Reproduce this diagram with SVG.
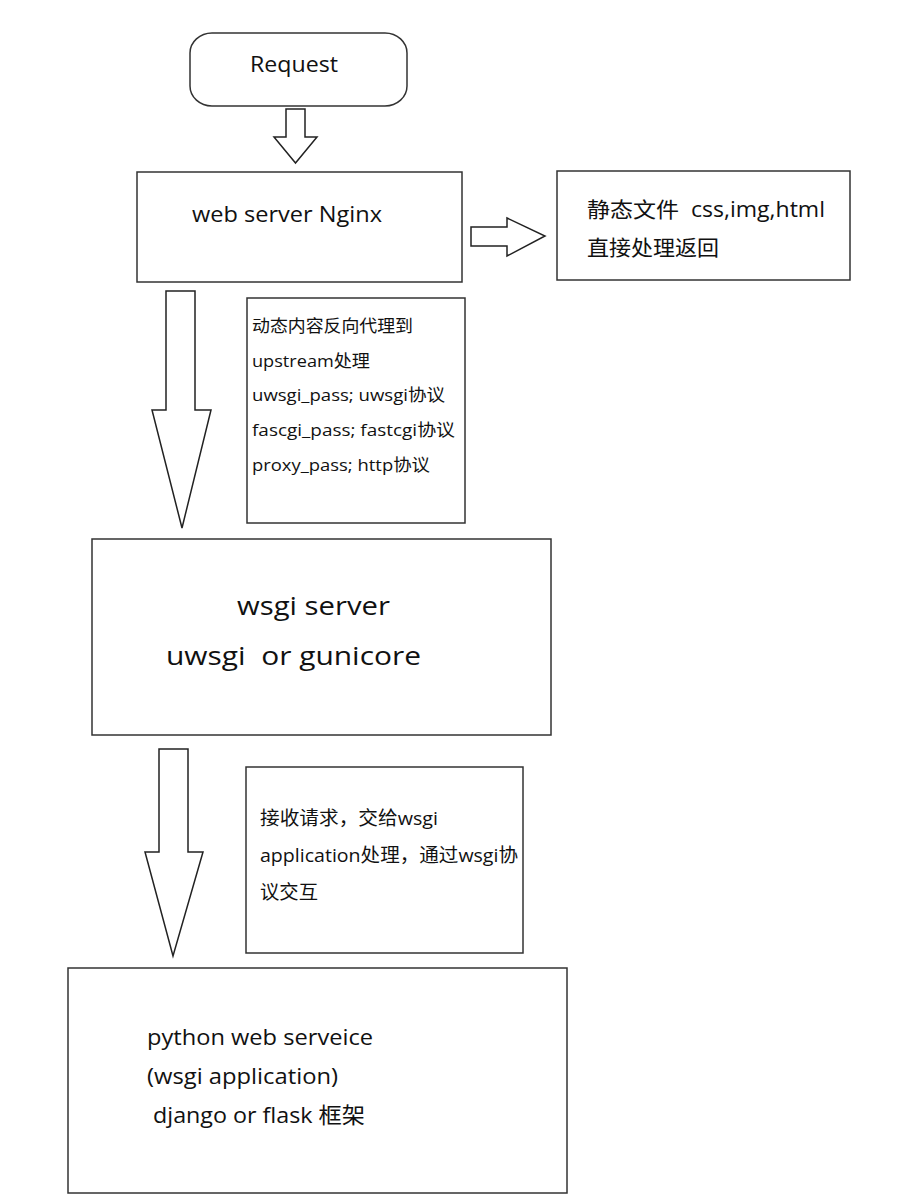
<svg xmlns="http://www.w3.org/2000/svg" width="908" height="1199" viewBox="0 0 908 1199" xml:space="preserve">
<style>
.box{fill:#fff;stroke:#333;stroke-width:1.5}
.arr{fill:#fff;stroke:#222;stroke-width:1.5;stroke-linejoin:miter}
text{font-family:"Open Sans","Noto Sans CJK SC",sans-serif;fill:#111;white-space:pre}
.t20{font-size:21px}
.t16{font-size:17px}
.t17{font-size:19px}
.t24{font-size:26px}
.t22{font-size:22px}
</style>
<rect width="908" height="1199" fill="#fff"/>
<g id="request">
<rect class="box" x="190" y="33" width="217" height="73" rx="22" ry="20"/>
<text class="t20" x="250" y="72" textLength="88" lengthAdjust="spacingAndGlyphs">Request</text>
</g>
<g id="nginx">
<rect class="box" x="137" y="172" width="325" height="110"/>
<text class="t20" x="192" y="222" textLength="190" lengthAdjust="spacingAndGlyphs">web server Nginx</text>
</g>
<g id="static">
<rect class="box" x="557" y="171" width="293" height="109"/>
<text class="t20" x="587" y="217" textLength="238" lengthAdjust="spacingAndGlyphs">静态文件  css,img,html</text>
<text class="t20" x="587" y="255" textLength="132" lengthAdjust="spacingAndGlyphs">直接处理返回</text>
</g>
<g id="note1">
<rect class="box" x="247" y="298" width="218" height="225"/>
<text class="t16" x="252" y="332" textLength="161" lengthAdjust="spacingAndGlyphs">动态内容反向代理到</text>
<text class="t16" x="252" y="367" textLength="118" lengthAdjust="spacingAndGlyphs">upstream处理</text>
<text class="t16" x="252" y="401" textLength="193" lengthAdjust="spacingAndGlyphs">uwsgi_pass; uwsgi协议</text>
<text class="t16" x="252" y="436" textLength="203" lengthAdjust="spacingAndGlyphs">fascgi_pass; fastcgi协议</text>
<text class="t16" x="252" y="471" textLength="178" lengthAdjust="spacingAndGlyphs">proxy_pass; http协议</text>
</g>
<g id="wsgi">
<rect class="box" x="92" y="539" width="459" height="196"/>
<text class="t24" x="237" y="615" textLength="153" lengthAdjust="spacingAndGlyphs">wsgi server</text>
<text class="t24" x="166" y="665" textLength="255" lengthAdjust="spacingAndGlyphs">uwsgi  or gunicore</text>
</g>
<g id="note2">
<rect class="box" x="246" y="767" width="277" height="186"/>
<text class="t17" x="260" y="825" textLength="178" lengthAdjust="spacingAndGlyphs">接收请求，交给wsgi</text>
<text class="t17" x="260" y="862" textLength="258" lengthAdjust="spacingAndGlyphs">application处理，通过wsgi协</text>
<text class="t17" x="260" y="899" textLength="58" lengthAdjust="spacingAndGlyphs">议交互</text>
</g>
<g id="python">
<rect class="box" x="68" y="968" width="499" height="225"/>
<text class="t22" x="147" y="1045" textLength="226" lengthAdjust="spacingAndGlyphs">python web serveice</text>
<text class="t22" x="147" y="1084" textLength="191" lengthAdjust="spacingAndGlyphs">(wsgi application)</text>
<text class="t22" x="147" y="1123" textLength="218" lengthAdjust="spacingAndGlyphs"> django or flask 框架</text>
</g>
<g id="connectors">
<polygon class="arr" points="286,109 305,109 305,137 317,137 295.5,163 274,137 286,137"/>
<polygon class="arr" points="471,227 507,227 507,218 545,236 507,256 507,246 471,246"/>
<polygon class="arr" points="166,291 195,291 195,410 211,410 182,528 152,410 166,410"/>
<polygon class="arr" points="159,749 188,749 188,852 203,852 173,956 145,852 159,852"/>
</g>
</svg>
